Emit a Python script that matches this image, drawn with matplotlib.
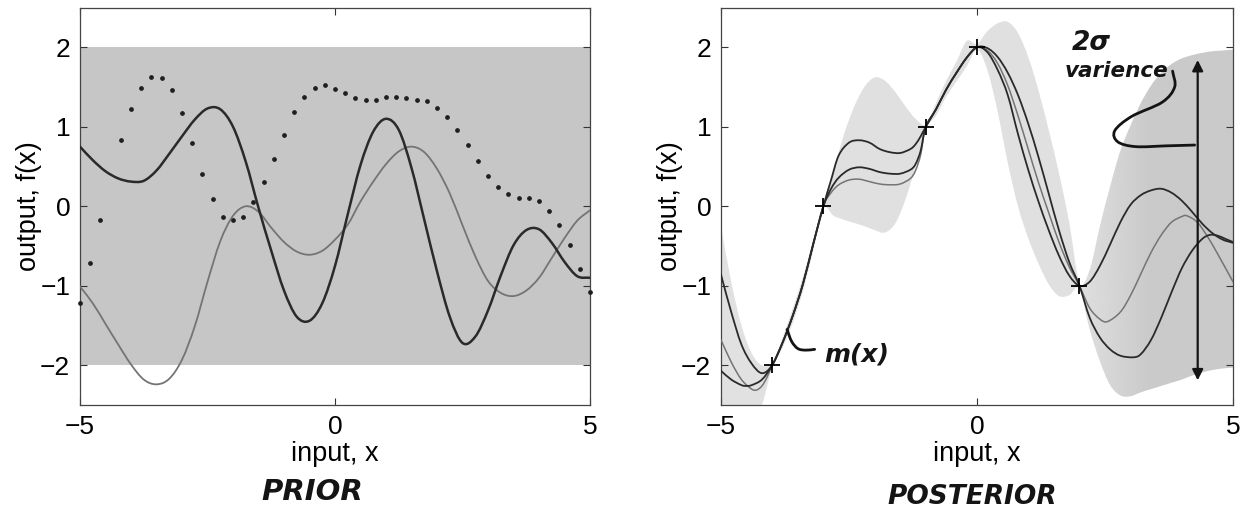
import numpy as np
import matplotlib
matplotlib.use('Agg')
import matplotlib.pyplot as plt
from matplotlib.path import Path
from matplotlib.patches import PathPatch

plt.rcParams['font.family'] = ['Liberation Sans', 'DejaVu Sans']

# ---------------- prior: three sample functions, +/-2 sd band ----------------
prior_band_lo = -2.0
prior_band_hi = 2.0

prior_x = [-5.0, -4.75, -4.5, -4.25, -4.0, -3.75, -3.5, -3.25, -3.0, -2.75,
           -2.5, -2.25, -2.0, -1.75, -1.5, -1.25, -1.0, -0.75, -0.5, -0.25,
           0.0, 0.25, 0.5, 0.75, 1.0, 1.25, 1.5, 1.75, 2.0, 2.25,
           2.5, 2.75, 3.0, 3.25, 3.5, 3.75, 4.0, 4.25, 4.5, 4.75, 5.0]
prior_dark = [0.75, 0.58, 0.44, 0.35, 0.31, 0.32, 0.45, 0.66, 0.88, 1.09,
              1.23, 1.22, 1.00, 0.56, -0.02, -0.56, -1.06, -1.39, -1.44, -1.22,
              -0.75, -0.10, 0.52, 0.94, 1.10, 0.96, 0.48, -0.17, -0.82, -1.39,
              -1.72, -1.64, -1.31, -0.87, -0.49, -0.30, -0.29, -0.46, -0.70, -0.88, -0.90]
prior_grey = [-1.01, -1.22, -1.48, -1.74, -1.99, -2.18, -2.24, -2.17, -1.93, -1.51,
              -0.95, -0.44, -0.12, 0.00, -0.07, -0.27, -0.45, -0.57, -0.61, -0.56,
              -0.42, -0.23, 0.06, 0.31, 0.53, 0.69, 0.75, 0.68, 0.47, 0.16,
              -0.24, -0.63, -0.94, -1.09, -1.13, -1.06, -0.90, -0.65, -0.40, -0.18, -0.05]

dots_x = [-5.0, -4.8, -4.6, -4.2, -4.0, -3.8, -3.6, -3.4, -3.2, -3.0,
          -2.8, -2.6, -2.4, -2.2, -2.0, -1.8, -1.6, -1.4, -1.2, -1.0,
          -0.8, -0.6, -0.4, -0.2, 0.0, 0.2, 0.4, 0.6, 0.8, 1.0,
          1.2, 1.4, 1.6, 1.8, 2.0, 2.2, 2.4, 2.6, 2.8, 3.0,
          3.2, 3.4, 3.6, 3.8, 4.0, 4.2, 4.4, 4.6, 4.8, 5.0]
dots_y = [-1.22, -0.72, -0.17, 0.83, 1.22, 1.49, 1.62, 1.61, 1.46, 1.17,
          0.80, 0.41, 0.09, -0.13, -0.17, -0.14, 0.05, 0.31, 0.60, 0.90,
          1.18, 1.37, 1.49, 1.52, 1.48, 1.42, 1.36, 1.34, 1.34, 1.37,
          1.37, 1.36, 1.34, 1.32, 1.24, 1.12, 0.96, 0.77, 0.57, 0.38,
          0.24, 0.16, 0.11, 0.10, 0.06, -0.06, -0.24, -0.49, -0.79, -1.08]

# ---------------- posterior: observations, band, three samples ----------------
obs_x = [-4.0, -3.0, -1.0, 0.0, 2.0]
obs_y = [-2.0, 0.0, 1.0, 2.0, -1.0]

band_x = [-5.0, -4.8, -4.6, -4.4, -4.2, -4.0, -3.8, -3.6, -3.4, -3.2,
          -3.0, -2.8, -2.6, -2.4, -2.2, -2.0, -1.8, -1.6, -1.4, -1.2,
          -1.0, -0.8, -0.6, -0.4, -0.2, 0.0, 0.2, 0.4, 0.6, 0.8,
          1.0, 1.2, 1.4, 1.6, 1.8, 2.0, 2.2, 2.4, 2.6, 2.8,
          3.0, 3.2, 3.4, 3.6, 3.8, 4.0, 4.2, 4.4, 4.6, 4.8, 5.0]
band_hi = [-0.25, -0.95, -1.50, -1.85, -2.00, -1.97, -1.66, -1.29, -0.89, -0.42,
           0.03, 0.45, 0.90, 1.25, 1.50, 1.62, 1.58, 1.44, 1.26, 1.10,
           1.03, 1.30, 1.58, 1.82, 2.08, 2.04, 2.20, 2.30, 2.32, 2.18,
           1.88, 1.46, 0.96, 0.42, -0.20, -0.96, -0.80, -0.25, 0.25, 0.70,
           1.02, 1.30, 1.52, 1.68, 1.79, 1.86, 1.90, 1.93, 1.95, 1.96, 1.97]
band_lo = [-3.20, -3.10, -2.95, -2.72, -2.50, -2.03, -1.78, -1.47, -1.07, -0.56,
           -0.03, -0.12, -0.17, -0.21, -0.25, -0.30, -0.33, -0.22, 0.08, 0.50,
           0.97, 1.14, 1.38, 1.57, 1.76, 1.97, 1.72, 1.20, 0.55, 0.00,
           -0.40, -0.72, -0.98, -1.13, -1.12, -1.04, -1.55, -1.95, -2.25, -2.38,
           -2.39, -2.34, -2.30, -2.26, -2.22, -2.18, -2.13, -2.09, -2.06, -2.04, -2.03]

post_a_x = [-5.0, -4.8, -4.6, -4.4, -4.2, -4.0, -3.8, -3.6, -3.4, -3.2,
            -3.0, -2.85, -2.7, -2.5, -2.3, -2.1, -1.9, -1.7, -1.5, -1.3,
            -1.2, -1.1, -1.0, -0.8, -0.6, -0.4, -0.2, 0.0, 0.2, 0.4,
            0.6, 0.8, 1.0, 1.2, 1.4, 1.6, 1.8, 2.0, 2.2, 2.4,
            2.6, 2.8, 3.0, 3.2, 3.4, 3.6, 3.8, 4.0, 4.2, 4.4, 4.6, 4.8, 5.0]
post_a_y = [-0.86, -1.33, -1.74, -1.98, -2.10, -2.00, -1.72, -1.38, -0.98, -0.48,
            0.00, 0.33, 0.64, 0.80, 0.83, 0.80, 0.72, 0.68, 0.67, 0.72,
            0.78, 0.88, 1.00, 1.22, 1.47, 1.68, 1.87, 2.00, 1.94, 1.72,
            1.40, 0.91, 0.46, 0.06, -0.30, -0.62, -0.87, -1.00, -0.95, -0.75,
            -0.48, -0.20, 0.02, 0.14, 0.20, 0.22, 0.17, 0.07, -0.07, -0.22, -0.34, -0.42, -0.46]

post_b_x = [-5.0, -4.8, -4.6, -4.5, -4.4, -4.2, -4.0, -3.8, -3.6, -3.4,
            -3.2, -3.0, -2.85, -2.7, -2.5, -2.3, -2.1, -1.9, -1.7, -1.5,
            -1.3, -1.2, -1.1, -1.0, -0.8, -0.6, -0.4, -0.2, 0.0, 0.2,
            0.4, 0.6, 0.8, 1.0, 1.2, 1.4, 1.6, 1.8, 2.0, 2.2,
            2.4, 2.6, 2.8, 3.05, 3.2, 3.4, 3.6, 3.8, 4.0, 4.2,
            4.4, 4.55, 4.7, 4.85, 5.0]
post_b_y = [-2.07, -2.18, -2.25, -2.26, -2.25, -2.18, -2.00, -1.72, -1.38, -0.98,
            -0.48, 0.00, 0.22, 0.36, 0.46, 0.49, 0.47, 0.43, 0.41, 0.41,
            0.46, 0.53, 0.70, 1.00, 1.22, 1.47, 1.68, 1.87, 2.00, 1.99,
            1.88, 1.68, 1.40, 1.04, 0.62, 0.16, -0.30, -0.70, -1.00, -1.40,
            -1.65, -1.80, -1.88, -1.90, -1.86, -1.68, -1.40, -1.08, -0.78, -0.56,
            -0.41, -0.36, -0.37, -0.41, -0.45]

post_c_x = [-5.0, -4.8, -4.6, -4.4, -4.3, -4.2, -4.1, -4.0, -3.8, -3.6,
            -3.4, -3.2, -3.0, -2.85, -2.7, -2.5, -2.3, -2.1, -1.9, -1.7,
            -1.5, -1.3, -1.2, -1.1, -1.0, -0.8, -0.6, -0.4, -0.2, 0.0,
            0.2, 0.4, 0.6, 0.8, 1.0, 1.2, 1.4, 1.6, 1.8, 2.0,
            2.2, 2.4, 2.55, 2.8, 3.0, 3.2, 3.4, 3.6, 3.8, 4.0,
            4.1, 4.3, 4.5, 4.7, 5.0]
post_c_y = [-1.68, -1.96, -2.18, -2.30, -2.31, -2.26, -2.15, -2.00, -1.72, -1.38,
            -0.98, -0.48, 0.00, 0.17, 0.27, 0.33, 0.34, 0.31, 0.28, 0.27,
            0.28, 0.35, 0.45, 0.65, 1.00, 1.22, 1.47, 1.68, 1.87, 2.00,
            1.96, 1.80, 1.52, 1.14, 0.72, 0.30, -0.08, -0.45, -0.76, -1.00,
            -1.28, -1.42, -1.45, -1.33, -1.12, -0.85, -0.58, -0.36, -0.20, -0.13,
            -0.12, -0.20, -0.38, -0.60, -0.95]

DARK = '#2a2a2a'
GREY = '#747474'


def _bezier(pts):
    # Catmull-Rom segments expressed as cubic Bezier control points
    p = np.vstack([2 * pts[0] - pts[1], pts, 2 * pts[-1] - pts[-2]])
    verts, codes = [], []
    for i in range(1, len(p) - 2):
        c1 = p[i] + (p[i + 1] - p[i - 1]) / 6.0
        c2 = p[i + 1] - (p[i + 2] - p[i]) / 6.0
        verts += [c1, c2, p[i + 1]]
        codes += [Path.CURVE4] * 3
    return verts, codes


def smooth_line(ax, xs, ys, **kw):
    pts = np.column_stack([xs, ys]).astype(float)
    verts, codes = _bezier(pts)
    path = Path([pts[0]] + verts, [Path.MOVETO] + codes)
    patch = PathPatch(path, facecolor='none', capstyle='round', joinstyle='round', **kw)
    ax.add_patch(patch)
    return patch


def smooth_band(ax, xs, lo, hi, **kw):
    top = np.column_stack([xs, hi]).astype(float)
    bot = np.column_stack([xs, lo]).astype(float)[::-1]
    v1, c1 = _bezier(top)
    v2, c2 = _bezier(bot)
    verts = [top[0]] + v1 + [bot[0]] + v2 + [top[0]]
    codes = [Path.MOVETO] + c1 + [Path.LINETO] + c2 + [Path.CLOSEPOLY]
    patch = PathPatch(Path(verts, codes), **kw)
    ax.add_patch(patch)
    return patch


def style_axes(ax):
    ax.set_xlim(-5, 5)
    ax.set_ylim(-2.5, 2.5)
    ax.set_xticks([-5, 0, 5])
    ax.set_yticks([-2, -1, 0, 1, 2])
    ax.tick_params(direction='in', top=True, right=True, length=5, width=0.8,
                   color='#333333', labelsize=19, pad=7)
    for sp in ax.spines.values():
        sp.set_linewidth(0.9)
        sp.set_color('#444444')
    ax.set_xlabel('input, x', fontsize=19.5, labelpad=2)
    ax.set_ylabel('output, f(x)', fontsize=19.5, labelpad=-1)


fig = plt.figure(figsize=(12.48, 5.15), dpi=100)
ax1 = fig.add_axes([0.0641, 0.2136, 0.4087, 0.7718])
ax2 = fig.add_axes([0.5777, 0.2136, 0.4103, 0.7718])

# prior panel
ax1.fill_between([-5, 5], prior_band_lo, prior_band_hi, color='#c6c6c6', lw=0, zorder=1)
smooth_line(ax1, prior_x, prior_grey, edgecolor=GREY, lw=1.3, zorder=3)
smooth_line(ax1, prior_x, prior_dark, edgecolor=DARK, lw=1.8, zorder=4)
ax1.plot(dots_x, dots_y, ls='none', marker='o', ms=2.4, color='#1e1e1e',
         zorder=5, clip_on=False)
style_axes(ax1)

# posterior panel: band shaded lighter on the left, darker on the right
band = smooth_band(ax2, band_x, band_lo, band_hi, facecolor='none', edgecolor='none')
shade_x = np.linspace(-5, 5, 300)
shade = np.interp(shade_x, [-5, 2.0, 3.4, 5], [0.88, 0.875, 0.79, 0.79])
img = ax2.imshow(shade[np.newaxis, :], extent=(-5, 5, -2.5, 2.5), aspect='auto',
                 cmap='gray', vmin=0, vmax=1, zorder=1, interpolation='bilinear')
img.set_clip_path(band)

smooth_line(ax2, post_c_x, post_c_y, edgecolor=GREY, lw=1.1, zorder=3)
smooth_line(ax2, post_a_x, post_a_y, edgecolor=DARK, lw=1.3, zorder=4)
smooth_line(ax2, post_b_x, post_b_y, edgecolor=DARK, lw=1.3, zorder=4)
ax2.plot(obs_x, obs_y, ls='none', marker='+', ms=11, mew=1.3, color='black', zorder=6)
style_axes(ax2)

# hand-drawn notes on the posterior
ink = '#141414'
hand = dict(family='DejaVu Sans', fontweight='bold', fontstyle='italic', color=ink)
ax2.annotate('', xy=(4.31, 1.84), xytext=(4.31, -2.19),
             arrowprops=dict(arrowstyle='<|-|>', color=ink, lw=1.6,
                             mutation_scale=16, shrinkA=0, shrinkB=0), zorder=7)
ax2.text(2.24, 2.05, '2σ', fontsize=19, ha='center', va='center', **hand)
ax2.text(2.72, 1.70, 'varience', fontsize=15.5, ha='center', va='center', **hand)
smooth_line(ax2, [3.82, 3.86, 3.62, 3.02, 2.69, 2.75, 3.10, 3.70, 4.25],
            [1.70, 1.50, 1.31, 1.13, 0.95, 0.81, 0.75, 0.76, 0.77],
            edgecolor=ink, lw=2.0, zorder=7)
smooth_line(ax2, [-3.71, -3.62, -3.50, -3.35, -3.17],
            [-1.55, -1.70, -1.79, -1.81, -1.80],
            edgecolor=ink, lw=2.0, zorder=7)
ax2.text(-2.35, -1.87, 'm(x)', fontsize=18, ha='center', va='center', **hand)

fig.text(312 / 1248, 1 - 492 / 515, 'PRIOR', fontsize=21, ha='center', va='center', **hand)
fig.text(972 / 1248, 1 - 497 / 515, 'POSTERIOR', fontsize=19, ha='center', va='center', **hand)

fig.savefig('out.png', dpi=100, facecolor='white')
